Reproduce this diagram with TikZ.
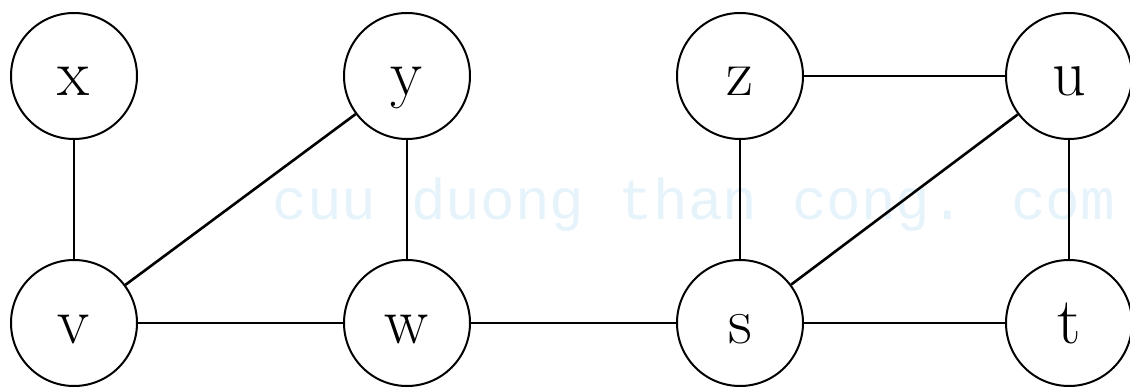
\documentclass[tikz,border=0pt]{standalone}
\usepackage{fontspec}
\newfontfamily\wmfont{Liberation Mono}
\definecolor{wmblue}{HTML}{E6F3FB}
\begin{document}
\begin{tikzpicture}[x=1pt,y=-1pt,
  vertex/.style={circle,draw=black,line width=2pt,minimum size=126pt,inner sep=0pt,
    font=\fontsize{66}{66}\selectfont,text height=40pt,text depth=0pt},
  edge/.style={draw=black,line width=2.6pt}]
\useasboundingbox (0,0) rectangle (1130,390);
\node[font=\wmfont\fontsize{57.7}{57.7}\selectfont,text=wmblue,anchor=base] (wm) at (694,220) {cuu duong than cong. com};
\node[vertex] (x) at (74,76) {x};
\node[vertex] (y) at (407,76) {y};
\node[vertex] (z) at (740,76) {z};
\node[vertex] (u) at (1069,76) {u};
\node[vertex] (v) at (74,323) {v};
\node[vertex] (w) at (407,323) {w};
\node[vertex] (s) at (740,323) {s};
\node[vertex] (t) at (1069,323) {t};
\draw[edge] (x) -- (v);
\draw[edge] (v) -- (y);
\draw[edge] (y) -- (w);
\draw[edge] (v) -- (w);
\draw[edge] (w) -- (s);
\draw[edge] (z) -- (u);
\draw[edge] (z) -- (s);
\draw[edge] (s) -- (u);
\draw[edge] (u) -- (t);
\draw[edge] (s) -- (t);
\end{tikzpicture}
\end{document}
